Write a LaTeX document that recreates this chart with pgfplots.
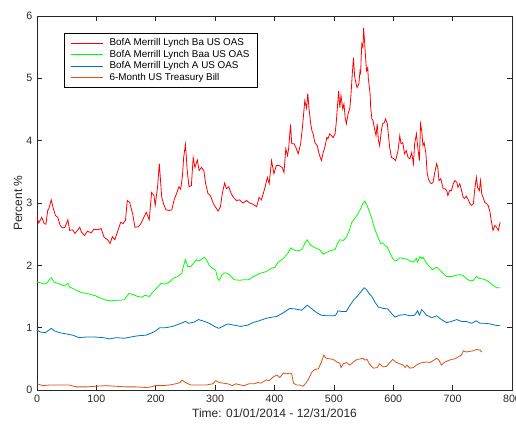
\documentclass[border=0pt]{standalone}
\usepackage{pgfplots}
\pgfplotsset{compat=1.18}
\usepackage{fontspec}
\setmainfont{Liberation Sans}
\definecolor{cBa}{rgb}{1,0,0}
\definecolor{cBaa}{rgb}{0,1,0}
\definecolor{cA}{rgb}{0,0.447,0.741}
\definecolor{cT}{rgb}{0.85,0.325,0.098}
\definecolor{axc}{rgb}{0.15,0.15,0.15}
\begin{document}
\begin{tikzpicture}
\begin{axis}[
  scale only axis, width=356.25pt, height=280.5pt,
  xmin=0, xmax=800, ymin=0, ymax=6,
  xtick={0,100,...,800}, ytick={0,1,...,6},
  tick align=inside, major tick length=3.5pt,
  axis line style={draw=axc, line width=0.45pt},
  tick style={draw=axc, line width=0.45pt},
  ticklabel style={font=\fontsize{8}{9}\selectfont, text=axc},
  /pgf/number format/assume math mode=true,
  scaled ticks=false,
  xlabel={Time: 01/01/2014 - 12/31/2016},
  ylabel={Percent \%},
  label style={font=\fontsize{9}{10}\selectfont, text=axc},
  xlabel style={at={(axis description cs:0.5,-0.0615)}, anchor=center},
  ylabel style={at={(axis description cs:-0.04,0.5)}, anchor=center},
  legend cell align=left,
  legend style={at={(0.057,0.955)}, anchor=north west, draw=black, line width=0.4pt,
    font=\fontsize{7.4}{8.1}\selectfont, inner xsep=5pt, inner ysep=3.5pt,
    nodes={inner sep=0.7pt}, row sep=0.3pt, column sep=3.5pt},
  legend image code/.code={\draw[mark repeat=2,mark phase=2,#1,line width=0.7pt] plot coordinates {(0pt,0pt) (12pt,0pt) (24pt,0pt)};},
  every axis plot/.append style={line width=0.6pt, mark=none},
]
\addplot[draw=cBa] coordinates {(0,2.77)(3,2.68)(8,2.77)(12,2.67)(15,2.66)(18,2.88)(20,2.91)(24,3.05)(27,2.93)(31,2.80)(35,2.77)(39,2.64)(43,2.60)(47,2.61)(52,2.73)(55,2.56)(60,2.57)(64,2.51)(68,2.56)(72,2.61)(75,2.53)(80,2.48)(85,2.55)(91,2.52)(96,2.58)(102,2.57)(108,2.59)(113,2.45)(119,2.41)(123,2.35)(127,2.46)(131,2.41)(136,2.55)(141,2.69)(145,2.67)(149,2.72)(152,3.04)(156,3.01)(161,2.83)(165,2.61)(171,2.62)(175,2.67)(180,2.77)(184,2.85)(189,2.73)(193,3.17)(197,3.12)(199,2.96)(203,3.25)(206,3.63)(210,3.10)(213,2.99)(217,2.89)(223,2.88)(227,2.89)(231,3.05)(235,3.15)(239,3.26)(242,3.22)(245,3.44)(247,3.73)(250,3.94)(253,3.52)(256,3.26)(260,3.28)(263,3.73)(266,3.57)(270,3.69)(273,3.52)(277,3.57)(281,3.52)(284,3.31)(288,3.15)(292,3.12)(297,2.99)(301,2.93)(305,2.87)(309,2.94)(312,3.15)(316,3.32)(319,3.23)(323,3.26)(327,3.15)(331,3.09)(336,3.04)(341,3.05)(347,3.00)(353,3.04)(358,3.00)(364,2.98)(370,2.94)(374,3.09)(378,3.05)(384,3.25)(388,3.41)(391,3.31)(395,3.68)(399,3.47)(403,3.60)(408,3.60)(413,3.57)(416,3.49)(419,3.87)(422,3.76)(424,3.89)(427,4.26)(429,3.95)(433,3.95)(436,3.89)(440,3.79)(444,3.95)(447,4.21)(451,4.64)(454,4.52)(456,4.76)(458,4.53)(461,4.27)(463,4.16)(465,4.11)(468,3.97)(472,3.92)(475,3.79)(479,3.68)(482,3.81)(485,3.90)(488,4.05)(490,4.03)(493,4.11)(496,4.08)(499,4.05)(502,4.11)(504,4.29)(508,4.80)(510,4.53)(512,4.72)(515,4.51)(517,4.59)(519,4.37)(521,4.27)(524,4.43)(527,4.53)(529,4.77)(531,5.07)(533,5.33)(535,5.03)(537,4.93)(539,4.85)(542,4.91)(544,5.12)(545,5.09)(547,5.55)(549,5.50)(550,5.81)(552,5.55)(553,5.39)(555,5.12)(557,5.17)(558,5.00)(561,4.75)(562,4.53)(564,4.35)(566,4.32)(568,4.21)(571,4.08)(573,4.27)(575,4.00)(577,3.92)(580,4.16)(582,4.27)(585,4.29)(587,4.35)(590,4.27)(592,4.08)(594,3.89)(597,3.73)(601,3.71)(604,3.68)(608,3.84)(611,4.08)(613,3.95)(616,3.97)(619,3.79)(622,3.84)(625,3.73)(628,3.71)(631,3.81)(634,3.63)(636,3.95)(639,4.11)(641,3.92)(644,3.68)(646,4.27)(648,4.16)(650,3.92)(652,3.97)(655,3.79)(657,3.49)(659,3.39)(662,3.33)(664,3.31)(667,3.33)(670,3.49)(673,3.63)(675,3.57)(677,3.36)(680,3.39)(682,3.31)(684,3.23)(687,3.23)(690,3.20)(692,3.12)(695,3.20)(698,3.20)(701,3.31)(704,3.36)(707,3.33)(709,3.25)(712,3.31)(715,3.20)(718,3.09)(720,3.07)(723,3.11)(727,3.04)(729,2.99)(732,2.96)(735,2.99)(737,3.20)(740,3.41)(742,3.25)(745,3.20)(747,3.36)(749,3.15)(752,3.07)(754,3.01)(757,2.99)(760,2.96)(763,2.85)(765,2.72)(768,2.56)(771,2.64)(774,2.61)(777,2.56)(780,2.69)};
\addlegendentry{BofA Merrill Lynch Ba US OAS}
\addplot[draw=cBaa] coordinates {(0,1.73)(6,1.72)(12,1.70)(16,1.71)(21,1.77)(24,1.80)(29,1.73)(35,1.71)(41,1.69)(46,1.67)(52,1.71)(55,1.65)(60,1.63)(68,1.59)(77,1.56)(88,1.54)(99,1.51)(108,1.47)(116,1.44)(125,1.43)(133,1.44)(141,1.44)(147,1.45)(151,1.50)(155,1.55)(162,1.53)(170,1.50)(177,1.49)(182,1.52)(189,1.50)(195,1.57)(201,1.63)(209,1.71)(216,1.70)(223,1.73)(229,1.79)(237,1.82)(244,1.87)(246,1.97)(250,2.09)(254,1.98)(259,1.98)(265,2.05)(269,2.09)(273,2.07)(279,2.11)(282,2.13)(286,2.08)(290,2.00)(296,1.95)(301,1.92)(304,1.79)(307,1.76)(311,1.84)(315,1.88)(321,1.87)(327,1.82)(332,1.77)(341,1.76)(349,1.77)(357,1.77)(363,1.81)(369,1.84)(375,1.87)(383,1.89)(388,1.91)(394,1.95)(401,1.97)(406,2.05)(415,2.11)(423,2.20)(427,2.28)(432,2.25)(438,2.23)(446,2.25)(451,2.35)(455,2.41)(460,2.33)(465,2.30)(471,2.27)(476,2.25)(482,2.18)(488,2.21)(496,2.24)(502,2.25)(506,2.35)(510,2.41)(516,2.40)(521,2.45)(526,2.56)(530,2.69)(535,2.75)(541,2.83)(545,2.91)(549,2.99)(552,3.03)(556,2.96)(559,2.88)(564,2.75)(567,2.64)(571,2.53)(575,2.43)(579,2.35)(582,2.36)(586,2.32)(590,2.29)(594,2.21)(599,2.11)(603,2.07)(606,2.08)(611,2.12)(617,2.11)(623,2.10)(628,2.07)(634,2.05)(639,2.11)(641,2.05)(645,2.14)(648,2.11)(650,2.13)(655,2.05)(661,1.98)(666,1.93)(673,1.97)(679,1.92)(684,1.87)(690,1.82)(698,1.82)(705,1.84)(711,1.85)(717,1.84)(723,1.79)(729,1.75)(735,1.76)(740,1.82)(745,1.79)(751,1.78)(757,1.76)(763,1.72)(768,1.68)(774,1.64)(780,1.64)};
\addlegendentry{BofA Merrill Lynch Baa US OAS}
\addplot[draw=cA] coordinates {(0,0.96)(6,0.93)(14,0.92)(20,0.96)(24,0.99)(29,0.95)(38,0.92)(49,0.90)(60,0.88)(71,0.84)(83,0.85)(97,0.85)(111,0.84)(123,0.82)(133,0.84)(147,0.83)(158,0.85)(170,0.87)(184,0.88)(192,0.91)(200,0.95)(207,1.00)(217,1.00)(228,1.02)(240,1.06)(250,1.10)(255,1.07)(265,1.09)(272,1.13)(282,1.10)(290,1.07)(299,1.02)(306,0.99)(313,1.02)(321,1.06)(332,1.04)(343,1.02)(355,1.04)(363,1.08)(374,1.11)(386,1.15)(397,1.17)(404,1.18)(415,1.24)(426,1.31)(434,1.30)(446,1.28)(455,1.36)(462,1.31)(471,1.24)(479,1.20)(488,1.19)(499,1.19)(503,1.20)(507,1.27)(513,1.26)(521,1.26)(527,1.36)(534,1.45)(539,1.50)(545,1.57)(551,1.64)(555,1.61)(559,1.55)(564,1.50)(569,1.41)(575,1.33)(583,1.31)(591,1.30)(597,1.23)(603,1.17)(611,1.20)(620,1.21)(628,1.19)(636,1.20)(641,1.27)(644,1.20)(648,1.29)(651,1.26)(656,1.20)(665,1.16)(673,1.19)(681,1.13)(690,1.08)(698,1.10)(707,1.13)(715,1.10)(723,1.10)(732,1.07)(740,1.11)(746,1.07)(754,1.07)(763,1.06)(771,1.04)(780,1.03)};
\addlegendentry{BofA Merrill Lynch A US OAS}
\addplot[draw=cT] coordinates {(0,0.10)(10,0.07)(21,0.08)(32,0.08)(43,0.08)(54,0.08)(66,0.05)(83,0.05)(99,0.06)(116,0.07)(133,0.06)(150,0.05)(167,0.05)(184,0.04)(192,0.05)(200,0.07)(212,0.07)(223,0.08)(234,0.10)(241,0.12)(244,0.16)(250,0.12)(259,0.08)(273,0.08)(285,0.08)(296,0.10)(301,0.15)(307,0.12)(313,0.11)(321,0.10)(329,0.07)(335,0.10)(343,0.08)(349,0.07)(357,0.10)(366,0.10)(372,0.12)(377,0.11)(386,0.16)(391,0.15)(398,0.21)(404,0.24)(409,0.20)(415,0.27)(420,0.26)(426,0.27)(429,0.26)(432,0.11)(437,0.08)(443,0.08)(448,0.06)(453,0.11)(457,0.17)(463,0.29)(468,0.33)(474,0.34)(479,0.45)(483,0.56)(487,0.51)(493,0.50)(499,0.49)(505,0.45)(510,0.43)(512,0.36)(516,0.42)(521,0.44)(527,0.40)(533,0.45)(539,0.49)(545,0.50)(549,0.51)(552,0.48)(556,0.49)(559,0.43)(564,0.37)(567,0.35)(573,0.36)(577,0.42)(583,0.37)(589,0.38)(594,0.44)(599,0.49)(604,0.45)(611,0.42)(617,0.40)(620,0.36)(623,0.40)(628,0.35)(634,0.36)(639,0.40)(645,0.43)(650,0.44)(656,0.45)(662,0.44)(667,0.47)(673,0.51)(677,0.48)(681,0.40)(687,0.45)(692,0.47)(698,0.49)(704,0.50)(709,0.53)(715,0.56)(718,0.63)(723,0.61)(729,0.62)(735,0.63)(740,0.65)(746,0.64)(749,0.61)};
\addlegendentry{6-Month US Treasury Bill}
\end{axis}
\pgfresetboundingbox
\useasboundingbox (-27.75pt,-25.5pt) rectangle (359.25pt,292.5pt);
\end{tikzpicture}
\end{document}
